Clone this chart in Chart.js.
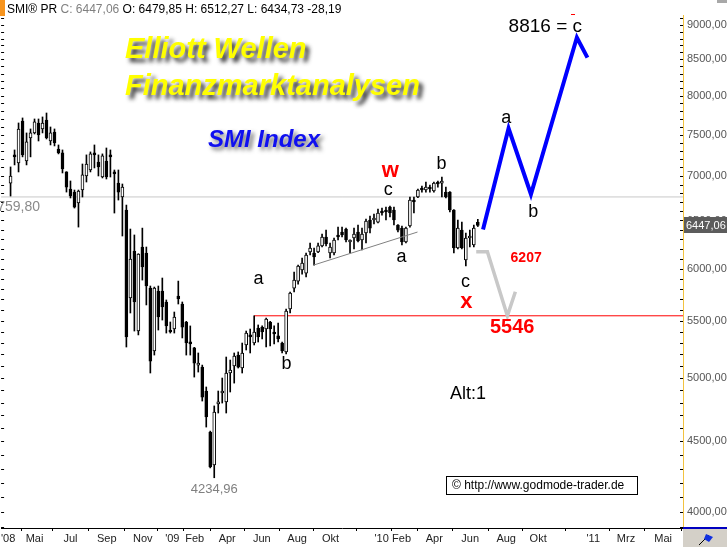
<!DOCTYPE html>
<html>
<head>
<meta charset="utf-8">
<title>SMI Index - Elliott Wellen</title>
<script src="https://cdn.jsdelivr.net/npm/chart.js@4.4.0/dist/chart.umd.min.js"></script>
<style>
  html, body { margin: 0; padding: 0; background: #fff; }
  #wrap { width: 727px; height: 547px; }
</style>
</head>
<body>
<div id="wrap"><canvas id="chart" width="727" height="547"></canvas></div>
<script>
// Wochenkerzen SMI (Index = Woche ab Mitte März 2008)
const opens = [6918, 7250, 7153, 7671, 7177, 7457, 7520, 7646, 7570, 7684,
  7420, 7532, 7322, 7274, 7047, 6850, 6815, 6692, 6838, 7000,
  7070, 7274, 7165, 6988, 7177, 7238, 7047, 6918, 6759, 6614,
  5713, 6178, 5407, 6219, 6157, 5808, 5230, 5779, 5779, 5675,
  5416, 5425, 5732, 5656, 5489, 5300, 5257, 5109, 5092, 4893,
  4570, 4326, 4789, 4877, 4804, 5042, 5101, 5195, 5084, 5283,
  5372, 5300, 5434, 5443, 5425, 5489, 5398, 5363, 5300, 5222,
  5609, 5808, 5876, 5985, 5955, 6168, 6157, 6168, 6230, 6324,
  6157, 6157, 6345, 6376, 6408, 6271, 6313, 6376, 6292, 6366,
  6505, 6505, 6483, 6603, 6614, 6647, 6614, 6451, 6418, 6271,
  6440, 6725, 6759, 6861, 6838, 6861, 6827, 6918, 6918, 6815,
  6815, 6614, 6209, 6397, 6086, 6313, 6240, 6479.85];
const highs = [7106, 7310, 7646, 7710, 7520, 7570, 7697, 7697, 7723, 7774,
  7595, 7570, 7371, 7310, 7050, 6942, 6838, 6838, 7141, 7250,
  7286, 7371, 7250, 7262, 7334, 7310, 7070, 7070, 6907, 6669,
  6408, 6345, 6150, 6418, 6219, 5828, 5818, 5828, 5906, 5694,
  5489, 5581, 5876, 5675, 5495, 5453, 5262, 5213, 5109, 4926,
  4577, 4773, 4893, 5000, 5178, 5152, 5213, 5222, 5300, 5407,
  5425, 5546, 5462, 5453, 5526, 5495, 5453, 5480, 5309, 5609,
  5770, 5965, 6035, 6106, 6157, 6261, 6209, 6261, 6355, 6397,
  6261, 6313, 6429, 6429, 6418, 6295, 6418, 6451, 6418, 6516,
  6549, 6570, 6625, 6636, 6647, 6658, 6647, 6455, 6440, 6429,
  6759, 6759, 6850, 6884, 6930, 6895, 6930, 6942, 6988, 6872,
  6820, 6620, 6505, 6483, 6366, 6397, 6451, 6512.27];
const lows = [6770, 7130, 7047, 7226, 7130, 7226, 7507, 7420, 7520, 7445,
  7371, 7359, 7262, 7035, 6815, 6748, 6636, 6429, 6759, 6930,
  7047, 7094, 7000, 6977, 6965, 6988, 6581, 6725, 6334, 5265,
  5572, 5407, 5372, 5886, 5647, 5042, 5195, 5416, 5507, 5389,
  5389, 5389, 5656, 5345, 5195, 5195, 5008, 5050, 4812, 4608,
  4305, 4234.96, 4717, 4796, 4717, 4885, 4958, 5084, 5042, 5239,
  5213, 5283, 5309, 5336, 5265, 5274, 5292, 5309, 5213, 5204,
  5572, 5770, 5847, 5945, 5916, 6137, 6035, 6160, 6219, 6230,
  6106, 6137, 6292, 6324, 6271, 6157, 6198, 6271, 6188, 6261,
  6366, 6462, 6473, 6559, 6505, 6538, 6451, 6376, 6240, 6261,
  6429, 6581, 6752, 6815, 6815, 6815, 6815, 6872, 6759, 6748,
  6592, 6157, 6198, 6198, 6025, 6219, 6219, 6434.73];
const closes = [7000, 7226, 7570, 7250, 7408, 7520, 7659, 7495, 7646, 7457,
  7520, 7396, 7274, 7082, 6872, 6770, 6647, 6827, 7012, 7141,
  7262, 7250, 7106, 7238, 6988, 7226, 7024, 6815, 6872, 5354,
  6096, 5675, 6147, 6015, 5828, 5143, 5808, 5535, 5628, 5453,
  5398, 5535, 5704, 5443, 5300, 5292, 5126, 5126, 4844, 4686,
  4312, 4725, 4804, 4893, 5042, 5067, 5187, 5092, 5213, 5389,
  5354, 5398, 5354, 5398, 5516, 5425, 5380, 5336, 5230, 5590,
  5760, 5886, 6025, 6056, 6137, 6209, 6117, 6230, 6324, 6250,
  6219, 6292, 6324, 6345, 6292, 6292, 6355, 6282, 6355, 6494,
  6418, 6527, 6581, 6581, 6592, 6581, 6505, 6397, 6271, 6418,
  6725, 6703, 6838, 6838, 6872, 6850, 6918, 6907, 6930, 6759,
  6614, 6209, 6418, 6209, 6313, 6334, 6418, 6447.06];

// Hilfslinien und Prognosen (Woche, Wert)
const resistLevel = 6759.80;
const targetX = 5546;
const targetXStart = 61;
const trendWeeks = [75.9, 101.9];
const trendValues = [6035, 6376];
const bullWeeks = [118.3, 124.7, 130.3, 141.8, 144.45];
const bullValues = [6404, 7579, 6790, 8816, 8524];
const bearWeeks = [116.6, 119.4, 124.4, 126.4];
const bearValues = [6171, 6171, 5546, 5773];

// Wellen-Beschriftungen (Text, Woche, Wert)
const waveTexts = ['a', 'b', 'c', 'a', 'b', 'c', 'a', 'b'];
const waveWeeks = [62.1, 69.1, 94.6, 97.9, 107.9, 113.9, 124.1, 130.9];
const waveValues = [5896, 5118, 6838, 6117, 7141, 5867, 7709, 6592];

// Achsen
const xTickWeeks = [-0.6, 6.0, 15.0, 24.1, 33.1, 40.5, 46.1, 54.25, 62.9, 71.75,
  80.1, 92.9, 97.9, 106.1, 115.1, 124.1, 132.1, 145.9, 154.1, 163.4];
const xTickLabels = ["'08", 'Mai', 'Jul', 'Sep', 'Nov', "'09", 'Feb', 'Apr', 'Jun', 'Aug',
  'Okt', "'10", 'Feb', 'Apr', 'Jun', 'Aug', 'Okt', "'11", 'Mrz', 'Mai'];
const yLabelValues = [4000, 4500, 5000, 5500, 6000, 6500, 7000, 7500, 8000, 8500, 9000];

const X_MIN = -2.375;
const X_MAX = 168.375;
const Y_MIN = 3895;
const Y_MAX = 9152;
const FONT = "'Liberation Sans', Arial, sans-serif";

const fmt = v => v.toFixed(2).replace('.', ',');

// Nebenstriche alle 100 Punkte
const yMinorTicks = [];
for (let v = 3900; v <= 9100; v += 100) yMinorTicks.push(v);

const idx = opens.map((_, i) => i);
const wickData = idx.map(i => ({ x: i, y: [lows[i], highs[i]] }));
const bodyData = idx.map(i => ({ x: i, y: [opens[i], closes[i]] }));

function text(ctx, s, x, y, font, color, align, base) {
  ctx.font = font;
  ctx.fillStyle = color;
  ctx.textAlign = align || 'center';
  ctx.textBaseline = base || 'middle';
  ctx.fillText(s, x, y);
}

// Beschriftungen, Rahmen, Kästchen
const overlay = {
  id: 'overlay',
  afterDraw(chart) {
    const { ctx, chartArea: a, scales: { x, y } } = chart;
    ctx.save();

    // Striche links und rechts
    ctx.fillStyle = '#000';
    yMinorTicks.forEach(v => {
      const py = Math.round(y.getPixelForValue(v));
      if (py < a.top || py > a.bottom) return;
      ctx.fillRect(a.left, py, 3, 1);
      ctx.fillRect(a.right - 3, py, 3, 1);
    });

    // Kopfzeile
    ctx.fillStyle = '#f7941d';
    ctx.fillRect(0, 0, 5, 16);
    const parts = [['SMI\u00ae PR ', '#000'], ['C: 6447,06 ', '#808080'],
      ['O: 6479,85 H: 6512,27 L: 6434,73 -28,19', '#000']];
    let hx = 7;
    parts.forEach(([s, c]) => {
      text(ctx, s, hx, 13, '12px ' + FONT, c, 'left', 'alphabetic');
      hx += ctx.measureText(s).width;
    });
    ctx.fillStyle = '#a8a8a8';
    ctx.fillRect(717, 0, 10, 3);

    // Titel mit Schatten
    ctx.save();
    ctx.shadowColor = 'rgba(30,30,30,0.9)';
    ctx.shadowBlur = 4;
    ctx.shadowOffsetX = 4;
    ctx.shadowOffsetY = 4;
    text(ctx, 'Elliott Wellen', 125, 58, 'italic bold 29px ' + FONT, '#ffff00', 'left', 'alphabetic');
    text(ctx, 'Finanzmarktanalysen', 125, 95, 'italic bold 29px ' + FONT, '#ffff00', 'left', 'alphabetic');
    ctx.shadowColor = 'rgba(60,60,60,0.75)';
    ctx.shadowOffsetX = 3;
    ctx.shadowOffsetY = 3;
    text(ctx, 'SMI Index', 208, 147, 'italic bold 24px ' + FONT, '#1010f0', 'left', 'alphabetic');
    ctx.restore();

    // Niveau-Beschriftungen
    text(ctx, fmt(resistLevel), 40, y.getPixelForValue(resistLevel) + 10, '14px ' + FONT, '#8a8a8a', 'right');
    text(ctx, fmt(lows[51]), x.getPixelForValue(51), y.getPixelForValue(lows[51]) + 12, '13px ' + FONT, '#808080');

    // Wellen
    waveTexts.forEach((s, i) => {
      text(ctx, s, x.getPixelForValue(waveWeeks[i]), y.getPixelForValue(waveValues[i]), '18px ' + FONT, '#000');
    });
    const red = '#ff0000';
    text(ctx, 'w', x.getPixelForValue(95.1), y.getPixelForValue(7059), 'bold 22px ' + FONT, red);
    text(ctx, 'x', x.getPixelForValue(114.1), y.getPixelForValue(5675), 'bold 22px ' + FONT, red);
    text(ctx, '6207', x.getPixelForValue(129.1), y.getPixelForValue(6106), 'bold 14px ' + FONT, red);
    text(ctx, String(targetX), x.getPixelForValue(125.6), y.getPixelForValue(5443), 'bold 20px ' + FONT, red);
    text(ctx, '8816 = c', x.getPixelForValue(133.9), y.getPixelForValue(8971), '19px ' + FONT, '#000');
    ctx.fillStyle = red;
    ctx.fillRect(571, 14, 4, 1);

    text(ctx, 'Alt:1', 468, 394, '18px ' + FONT, '#000');

    // Copyright-Kasten
    ctx.fillStyle = '#fff';
    ctx.fillRect(446, 476, 192, 19);
    ctx.strokeStyle = '#000';
    ctx.lineWidth = 1;
    ctx.strokeRect(446.5, 476.5, 191, 18);
    text(ctx, '\u00a9 http://www.godmode-trader.de', 452, 486, '12px ' + FONT, '#000', 'left');

    // aktueller Kurs
    const pp = Math.round(y.getPixelForValue(closes[closes.length - 1]));
    ctx.fillStyle = '#5c5c5c';
    ctx.fillRect(a.right + 1, pp - 8, 727 - a.right - 1, 16);
    text(ctx, fmt(closes[closes.length - 1]), a.right + 3, pp + 1, '11px ' + FONT, '#fff', 'left');

    // Ecke unten rechts
    ctx.fillStyle = '#d4d0c8';
    ctx.fillRect(a.right, a.bottom + 1, 727 - a.right, 547 - a.bottom);
    ctx.fillStyle = '#0000c0';
    ctx.fillRect(a.right, a.bottom - 1, 727 - a.right, 2);
    ctx.strokeStyle = '#000';
    ctx.beginPath();
    ctx.moveTo(699, 545);
    ctx.lineTo(709, 535);
    ctx.stroke();
    ctx.fillStyle = '#1030e0';
    ctx.beginPath();
    ctx.moveTo(706, 534);
    ctx.lineTo(713, 537);
    ctx.lineTo(709, 542);
    ctx.lineTo(704, 539);
    ctx.closePath();
    ctx.fill();

    ctx.restore();
  }
};

const lineDs = (weeks, values, color, width, order) => ({
  type: 'line',
  data: weeks.map((w, i) => ({ x: w, y: values[i] })),
  borderColor: color,
  borderWidth: width,
  pointRadius: 0,
  fill: false,
  tension: 0,
  order
});

new Chart(document.getElementById('chart'), {
  type: 'bar',
  data: {
    datasets: [
      lineDs([X_MIN, X_MAX], [resistLevel, resistLevel], '#c8c8c8', 1, 5),
      lineDs([targetXStart, X_MAX], [targetX, targetX], '#ff0000', 1, 5),
      {
        data: wickData,
        backgroundColor: '#000',
        borderWidth: 0,
        barThickness: 1,
        grouped: false,
        order: 4
      },
      {
        data: bodyData,
        backgroundColor: bodyData.map(d => d.y[1] >= d.y[0] ? '#fff' : '#000'),
        borderColor: '#000',
        borderWidth: 1,
        borderSkipped: false,
        barThickness: 3,
        minBarLength: 2,
        grouped: false,
        order: 3
      },
      lineDs(trendWeeks, trendValues, '#808080', 1, 2),
      lineDs(bearWeeks, bearValues, '#c8c8c8', 3.5, 1),
      lineDs(bullWeeks, bullValues, '#0000ff', 4, 0)
    ]
  },
  options: {
    responsive: false,
    animation: false,
    events: [],
    devicePixelRatio: 1,
    layout: { padding: { top: 15, left: 0, right: 0, bottom: 0 } },
    plugins: { legend: { display: false }, tooltip: { enabled: false } },
    scales: {
      x: {
        type: 'linear',
        min: X_MIN,
        max: X_MAX,
        offset: false,
        afterBuildTicks: s => { s.ticks = xTickWeeks.map(v => ({ value: v })); },
        afterFit: s => { s.height = 19; },
        ticks: {
          autoSkip: false,
          maxRotation: 0,
          minRotation: 0,
          padding: 1,
          color: '#222',
          font: { family: FONT, size: 11 },
          callback: (v, i) => xTickLabels[i]
        },
        grid: { drawOnChartArea: false, tickLength: 3, color: '#000' },
        border: { display: true, color: '#000', width: 1 }
      },
      y: {
        type: 'logarithmic',
        position: 'right',
        min: Y_MIN,
        max: Y_MAX,
        afterBuildTicks: s => { s.ticks = yLabelValues.map(v => ({ value: v })); },
        afterFit: s => { s.width = 44; },
        ticks: {
          autoSkip: false,
          padding: 4,
          color: '#555',
          font: { family: FONT, size: 11 },
          callback: v => fmt(v)
        },
        grid: { drawOnChartArea: false, drawTicks: false },
        border: { display: true, color: '#f2c240', width: 1 }
      }
    }
  },
  plugins: [overlay]
});
</script>
</body>
</html>
